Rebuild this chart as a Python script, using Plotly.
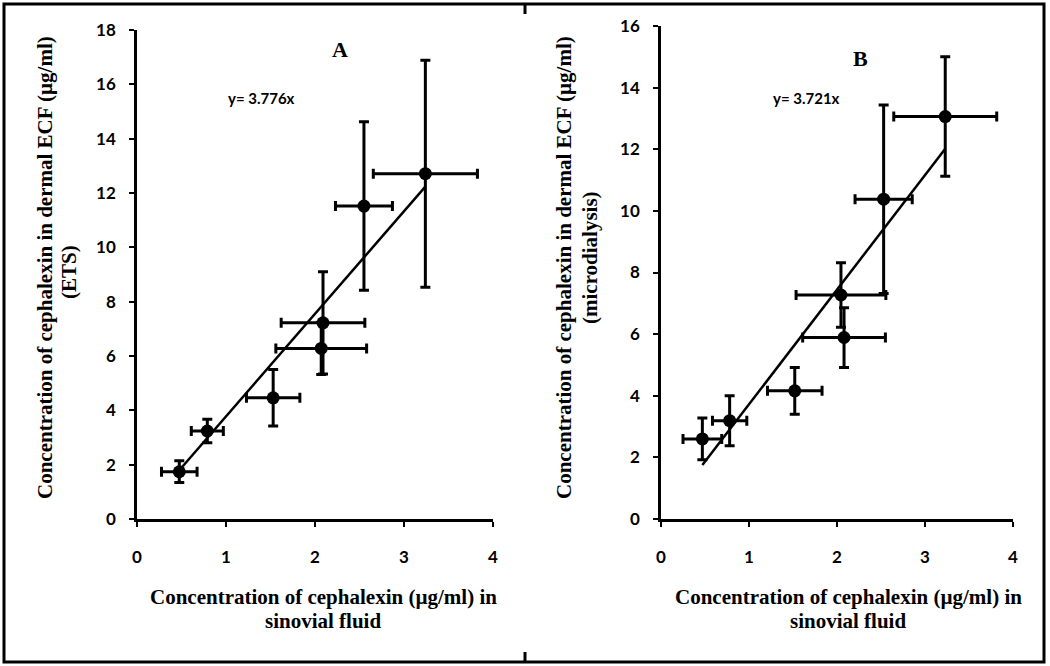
import plotly.graph_objects as go

# Panel A (ETS)
a_x = [0.475, 0.79, 1.53, 2.09, 2.07, 2.55, 3.24]
a_y = [1.74, 3.24, 4.46, 7.22, 6.28, 11.52, 12.71]
a_xerr = [0.20, 0.18, 0.30, 0.47, 0.51, 0.32, 0.585]
a_yerr = [0.40, 0.43, 1.04, 1.88, 0.96, 3.10, 4.18]
a_slope = 3.776

# Panel B (microdialysis)
b_x = [0.47, 0.78, 1.52, 2.045, 2.08, 2.53, 3.23]
b_y = [2.60, 3.19, 4.16, 7.27, 5.89, 10.38, 13.06]
b_xerr = [0.22, 0.195, 0.31, 0.51, 0.47, 0.325, 0.585]
b_yerr = [0.68, 0.81, 0.76, 1.05, 0.97, 3.06, 1.94]
b_slope = 3.721

x_ticks = [0, 1, 2, 3, 4]
a_yticks = list(range(0, 19, 2))
b_yticks = list(range(0, 17, 2))

x_title = ["Concentration of cephalexin (µg/ml) in", "sinovial fluid"]
a_y_title = ["Concentration of cephalexin in dermal ECF (µg/ml)", "(ETS)"]
b_y_title = ["Concentration of cephalexin in dermal ECF (µg/ml)", "(microdialysis)"]

W, H = 1050, 666
def px(x): return x / W
def py(y): return 1 - y / H

fig = go.Figure()

def add_panel(xs, ys, xe, ye, slope, xa, ya):
    fig.add_trace(go.Scatter(
        x=xs, y=ys, mode="markers", xaxis=xa, yaxis=ya,
        marker=dict(color="black", size=13),
        error_x=dict(type="data", array=xe, color="black", thickness=3, width=5),
        error_y=dict(type="data", array=ye, color="black", thickness=3, width=5),
        showlegend=False))
    x0, x1 = min(xs), max(xs)
    fig.add_trace(go.Scatter(
        x=[x0, x1], y=[slope * x0, slope * x1], mode="lines", xaxis=xa, yaxis=ya,
        line=dict(color="black", width=2.5), showlegend=False))

add_panel(a_x, a_y, a_xerr, a_yerr, a_slope, "x", "y")
add_panel(b_x, b_y, b_xerr, b_yerr, b_slope, "x2", "y2")

tick_font = dict(family="Lato", size=17, color="black", weight="bold")
common_x = dict(range=[0, 4], tickvals=x_ticks, showline=True, linecolor="black", linewidth=2.5,
                ticks="outside", ticklen=5, tickwidth=2, tickcolor="black", showgrid=False,
                zeroline=False, tickfont=tick_font, ticklabelstandoff=16, fixedrange=True,
                automargin=False)
common_y = dict(showline=True, linecolor="black", linewidth=2.5,
                ticks="outside", ticklen=5, tickwidth=2, tickcolor="black", showgrid=False,
                zeroline=False, tickfont=tick_font, ticklabelstandoff=10, fixedrange=True,
                automargin=False)

fig.update_layout(
    width=W, height=H, margin=dict(l=0, r=0, t=0, b=0, pad=0, autoexpand=False),
    paper_bgcolor="white", plot_bgcolor="white",
    xaxis=dict(domain=[px(137), px(493)], anchor="y", **common_x),
    yaxis=dict(domain=[py(519), py(30)], anchor="x", range=[0, 18], tickvals=a_yticks, **common_y),
    xaxis2=dict(domain=[px(661), px(1013)], anchor="y2", **common_x),
    yaxis2=dict(domain=[py(519), py(26)], anchor="x2", range=[0, 16], tickvals=b_yticks, **common_y),
)

title_font = dict(family="Liberation Serif", size=21, color="black", weight="bold")
ann = []

def text(x, y, t, font, angle=0, xref="paper", yref="paper"):
    ann.append(dict(x=x, y=y, xref=xref, yref=yref, showarrow=False, text=t, font=font,
                    textangle=angle, xanchor="center", yanchor="middle"))

# x titles
for cx in (323, 848):
    text(px(cx), py(597), x_title[0], title_font)
    text(px(cx), py(621), x_title[1], title_font)
# y titles
text(px(45), py(268), a_y_title[0], title_font, -90)
text(px(69), py(272), a_y_title[1], title_font, -90)
text(px(564), py(268), b_y_title[0], title_font, -90)
text(px(590), py(258), b_y_title[1], title_font, -90)
# panel letters
letter_font = dict(family="Liberation Serif", size=22, color="black", weight="bold")
text(2.28, 17.3, "A", letter_font, xref="x", yref="y")
text(2.27, 14.96, "B", letter_font, xref="x2", yref="y2")
# equations
eq_font = dict(family="Lato", size=15, color="black", weight="bold")
text(1.40, 15.5, "y= %.3fx" % a_slope, eq_font, xref="x", yref="y")
text(1.65, 13.66, "y= %.3fx" % b_slope, eq_font, xref="x2", yref="y2")
fig.update_layout(annotations=ann)

# outer frame with small notches at the middle
fig.add_shape(type="rect", xref="paper", yref="paper", x0=px(4), x1=px(1044), y0=py(662), y1=py(4),
              line=dict(color="black", width=3))
for y0, y1 in ((4, 14), (652, 662)):
    fig.add_shape(type="line", xref="paper", yref="paper", x0=px(525), x1=px(525), y0=py(y0), y1=py(y1),
                  line=dict(color="black", width=3))

fig.write_html("out.html", config=dict(displayModeBar=False),
               post_script="document.body.style.margin='0';document.body.style.overflow='hidden';")
